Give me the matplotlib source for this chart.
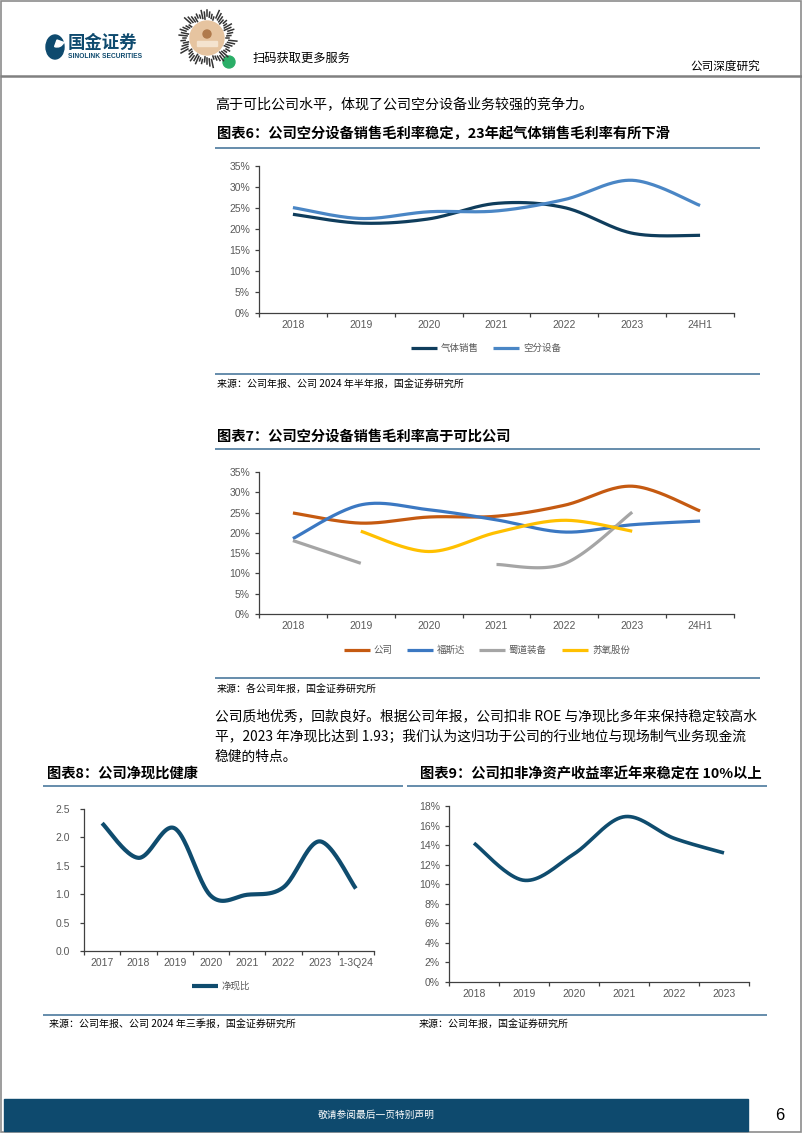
import numpy as np
import matplotlib
matplotlib.use('Agg')
import matplotlib.pyplot as plt
from matplotlib.patches import Rectangle, Circle, Ellipse, Wedge
from matplotlib.ticker import FuncFormatter

W, H = 802, 1133
CJK = ['Noto Sans CJK SC', 'DejaVu Sans']
NUM = ['Liberation Sans', 'Noto Sans CJK SC', 'DejaVu Sans']

# ---------------- data ----------------
# Chart 6
years6 = ['2018', '2019', '2020', '2021', '2022', '2023', '24H1']
names6 = ['气体销售', '空分设备']
gas_sales = [23.5, 21.4, 22.4, 26.1, 25.1, 19.0, 18.5]
asu_equip = [25.1, 22.5, 24.1, 24.3, 27.0, 31.6, 25.6]
colors6 = ['#0f3d5c', '#4a86c5']

# Chart 7
years7 = ['2018', '2019', '2020', '2021', '2022', '2023', '24H1']
names7 = ['公司', '福斯达', '蜀道装备', '苏氧股份']
company = [24.9, 22.4, 23.9, 24.1, 26.8, 31.5, 25.4]
fusida = [18.6, 26.9, 25.7, 23.2, 20.2, 22.0, 22.9]
shudao = [18.1, 12.5, None, 12.2, 12.4, 25.1, None]
suyang = [None, 20.4, 15.4, 20.1, 23.1, 20.4, None]
colors7 = ['#c55a11', '#3b78c2', '#a5a5a5', '#ffc000']

# Chart 8
years8 = ['2017', '2018', '2019', '2020', '2021', '2022', '2023', '1-3Q24']
name8 = '净现比'
cash_ratio = [2.25, 1.64, 2.16, 0.97, 0.99, 1.12, 1.93, 1.10]

# Chart 9
years9 = ['2018', '2019', '2020', '2021', '2022', '2023']
roe = [14.2, 10.4, 13.1, 16.9, 14.7, 13.2]

NAVY = '#0e4a6e'
LINE_BLUE = '#3c6d95'


def smooth(xs, ys, n=40):
    """Excel-like Bezier smoothing through the given points."""
    P = np.column_stack([xs, ys]).astype(float)
    m = len(P)
    if m < 2:
        return P[:, 0], P[:, 1]
    out = []
    t = np.linspace(0, 1, n)[:, None]
    for i in range(m - 1):
        p0 = P[i - 1] if i > 0 else P[i]
        p1, p2 = P[i], P[i + 1]
        p3 = P[i + 2] if i + 2 < m else P[i + 1]
        c1 = p1 + (p2 - p0) / 6
        c2 = p2 - (p3 - p1) / 6
        seg = (1 - t) ** 3 * p1 + 3 * (1 - t) ** 2 * t * c1 + 3 * (1 - t) * t ** 2 * c2 + t ** 3 * p2
        out.append(seg if i == 0 else seg[1:])
    S = np.vstack(out)
    return S[:, 0], S[:, 1]


def plot_smooth(ax, values, color, lw):
    seg_x, seg_y = [], []
    for i, v in enumerate(values + [None]):
        if v is None:
            if seg_x:
                sx, sy = smooth(seg_x, seg_y)
                ax.plot(sx, sy, color=color, lw=lw, solid_capstyle='butt', clip_on=False)
            seg_x, seg_y = [], []
        else:
            seg_x.append(i)
            seg_y.append(v)


fig = plt.figure(figsize=(W / 100, H / 100), dpi=100)

# overlay axes in pixel coordinates
ov = fig.add_axes([0, 0, 1, 1], zorder=0)
ov.set_xlim(0, W)
ov.set_ylim(H, 0)
ov.axis('off')


def txt(x, y, s, size, color='black', weight='normal', ha='left', fam=CJK, **kw):
    ov.text(x, y, s, fontsize=size, color=color, fontweight=weight, ha=ha, va='center',
            family=fam, **kw)


def hline(x0, x1, y, color=LINE_BLUE, lw=1.1):
    ov.plot([x0, x1], [y, y], color=color, lw=lw, solid_capstyle='butt')


# page frame
ov.add_patch(Rectangle((1, 1), W - 2, H - 2, fill=False, ec='#8c8c8c', lw=1.2))

# header
ov.add_patch(Ellipse((55, 47), 18, 24, color=NAVY))
ov.add_patch(Wedge((57, 40), 7, 20, 110, color='white'))
txt(68, 43, '国金证券', 12.5, color=NAVY, weight='bold')
txt(68, 56, 'SINOLINK SECURITIES', 4.8, color=NAVY, weight='bold', fam=NUM)
# mini-program code (decorative)
cx, cy = 207, 38
ang = np.linspace(0, 2 * np.pi, 60, endpoint=False)
for k, a in enumerate(ang):
    r0 = 19 + (k * 7 % 4)
    r1 = r0 + 3 + (k * 5 % 6)
    ov.plot([cx + r0 * np.cos(a), cx + r1 * np.cos(a)], [cy + r0 * np.sin(a), cy + r1 * np.sin(a)],
            color='#333333', lw=1.1)
ov.add_patch(Circle((cx, cy), 17, color='#e6c4a0'))
ov.add_patch(Circle((cx, cy - 4), 4, color='#b07a4c'))
ov.add_patch(Rectangle((cx - 10, cy + 3), 20, 5, color='#f4e3cf'))
ov.add_patch(Circle((229, 62), 6, color='#2aae67'))
txt(253, 58, '扫码获取更多服务', 8.8)
txt(760, 66, '公司深度研究', 8.4, ha='right')
hline(0, W, 76, color='#808080', lw=1.8)

# body text
txt(215, 105, '高于可比公司水平，体现了公司空分设备业务较强的竞争力。', 10.1)

# chart 6 title
TS = 10.3
SS = 7.2
txt(217, 134, '图表6：公司空分设备销售毛利率稳定，23年起气体销售毛利率有所下滑', TS, weight='bold')
hline(215, 760, 148)
hline(215, 760, 374)
txt(217, 385, '来源：公司年报、公司 2024 年半年报，国金证券研究所', SS)

# chart 7 title
txt(217, 437, '图表7：公司空分设备销售毛利率高于可比公司', TS, weight='bold')
hline(215, 760, 449)
hline(215, 760, 678)
txt(217, 690, '来源：各公司年报，国金证券研究所', SS)

# paragraph
PS = 9.9
txt(215, 716, '公司质地优秀，回款良好。根据公司年报，公司扣非 ROE 与净现比多年来保持稳定较高水', PS)
txt(215, 737, '平，2023 年净现比达到 1.93；我们认为这归功于公司的行业地位与现场制气业务现金流', PS)
txt(215, 757, '稳健的特点。', PS)

# chart 8/9 titles
txt(47, 774, '图表8：公司净现比健康', TS, weight='bold')
txt(420, 774, '图表9：公司扣非净资产收益率近年来稳定在 10%以上', TS, weight='bold')
hline(43, 403, 786)
hline(407, 767, 786)
hline(43, 767, 1015)
txt(49, 1025, '来源：公司年报、公司 2024 年三季报，国金证券研究所', SS)
txt(419, 1025, '来源：公司年报，国金证券研究所', SS)

# footer
ov.add_patch(Rectangle((4, 1099), 744, 32, color=NAVY))
txt(376, 1115, '敬请参阅最后一页特别声明', 7, color='white', ha='center')
txt(780, 1115, '6', 12, ha='center', fam=NUM)


def setup_axes(rect_px, cats, ymax, ystep, fmt, ypad=3.5):
    x0, y0, x1, y1 = rect_px
    ax = fig.add_axes([x0 / W, 1 - y1 / H, (x1 - x0) / W, (y1 - y0) / H], zorder=2)
    ax.set_facecolor('none')
    ax.set_xlim(-0.5, len(cats) - 0.5)
    ax.set_ylim(0, ymax)
    for s in ['top', 'right']:
        ax.spines[s].set_visible(False)
    for s in ['left', 'bottom']:
        ax.spines[s].set_color('#404040')
        ax.spines[s].set_linewidth(0.9)
    ax.set_xticks(range(len(cats)))
    ax.set_xticklabels(cats)
    ax.set_xticks(np.arange(-0.5, len(cats)), minor=True)
    ax.tick_params(axis='x', which='major', length=0, pad=5)
    ax.tick_params(axis='x', which='minor', length=3, direction='out', color='#404040', width=0.9)
    ax.set_yticks(np.arange(0, ymax + ystep / 2, ystep))
    ax.yaxis.set_major_formatter(FuncFormatter(fmt))
    ax.tick_params(axis='y', length=3, direction='out', color='#404040', width=0.9, pad=ypad)
    for lab in ax.get_xticklabels() + ax.get_yticklabels():
        lab.set_family(NUM)
        lab.set_fontsize(7.5)
        lab.set_color('#595959')
    return ax


def legend_item(x0, y, color, lw, label):
    ov.plot([x0, x0 + 26], [y, y], color=color, lw=lw, solid_capstyle='butt')
    txt(x0 + 30, y, label, 6.8, color='#595959')


pct = lambda v, p: f'{v:.0f}%'

# chart 6
ax6 = setup_axes((259, 166, 734, 313), years6, 35, 5, pct)
for vals, c in zip([gas_sales, asu_equip], colors6):
    plot_smooth(ax6, vals, c, 2.3)
legend_item(411, 348, colors6[0], 2.3, names6[0])
legend_item(493, 348, colors6[1], 2.3, names6[1])

# chart 7
ax7 = setup_axes((259, 472, 734, 614), years7, 35, 5, pct)
for vals, c in zip([company, fusida, shudao, suyang], colors7):
    plot_smooth(ax7, vals, c, 2.3)
for x0, c, nm in zip([344, 407, 479, 562], colors7, names7):
    legend_item(x0, 650, c, 2.3, nm)

# chart 8
ax8 = setup_axes((84, 809, 374, 951), years8, 2.5, 0.5, lambda v, p: f'{v:.1f}', ypad=7)
plot_smooth(ax8, cash_ratio, '#0f4c6e', 3.0)
legend_item(192, 986, '#0f4c6e', 3.0, name8)

# chart 9
ax9 = setup_axes((449, 806, 749, 982), years9, 18, 2, pct)
plot_smooth(ax9, roe, '#0f4c6e', 2.6)

fig.savefig('out.png', dpi=100)
